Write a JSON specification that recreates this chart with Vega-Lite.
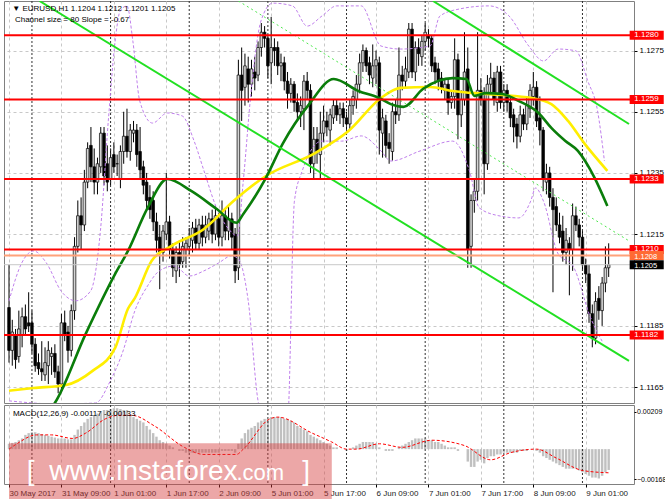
{
"$schema": "https://vega.github.io/schema/vega-lite/v6.json",
"padding": {"left": 2, "right": 0, "top": 0, "bottom": 0},
"background": "white",
"spacing": 0,
"config": {
  "view": {"stroke": "#808080", "strokeWidth": 1},
  "axis": {"labelFont": "Liberation Sans", "labelFontSize": 8, "labelColor": "#000", "domain": false, "gridColor": "#c8c8c8", "gridDash": [3,3], "gridWidth": 1, "tickColor": "#000", "tickSize": 3, "labelPadding": 2},
  "text": {"font": "Liberation Sans"},
  "concat": {"spacing": 0}
},
"datasets": {
"sep": [{"i":7},{"i":31},{"i":55},{"i":79},{"i":103},{"i":127},{"i":151},{"i":175}],
"candles": [
{"i":0,"o":1.1191,"h":1.1205,"l":1.1173,"c":1.1177},
{"i":1,"o":1.1177,"h":1.1187,"l":1.1172,"c":1.1183},
{"i":2,"o":1.1182,"h":1.1184,"l":1.1171,"c":1.1174},
{"i":3,"o":1.1175,"h":1.1190,"l":1.1173,"c":1.1184},
{"i":4,"o":1.1182,"h":1.1191,"l":1.1178,"c":1.1188},
{"i":5,"o":1.1188,"h":1.1192,"l":1.1182,"c":1.1184},
{"i":6,"o":1.1186,"h":1.1196,"l":1.1183,"c":1.1185},
{"i":7,"o":1.1186,"h":1.1190,"l":1.1176,"c":1.1179},
{"i":8,"o":1.1179,"h":1.1181,"l":1.1170,"c":1.1172},
{"i":9,"o":1.1173,"h":1.1176,"l":1.1169,"c":1.1171},
{"i":10,"o":1.1171,"h":1.1180,"l":1.1167,"c":1.1170},
{"i":11,"o":1.1169,"h":1.1178,"l":1.1167,"c":1.1173},
{"i":12,"o":1.1172,"h":1.1180,"l":1.1166,"c":1.1177},
{"i":13,"o":1.1175,"h":1.1178,"l":1.1169,"c":1.1176},
{"i":14,"o":1.1176,"h":1.1179,"l":1.1168,"c":1.1170},
{"i":15,"o":1.1170,"h":1.1172,"l":1.1163,"c":1.1166},
{"i":16,"o":1.1166,"h":1.1189,"l":1.1164,"c":1.1186},
{"i":17,"o":1.1186,"h":1.1190,"l":1.1180,"c":1.1182},
{"i":18,"o":1.1183,"h":1.1185,"l":1.1173,"c":1.1177},
{"i":19,"o":1.1177,"h":1.1192,"l":1.1175,"c":1.1190},
{"i":20,"o":1.1190,"h":1.1214,"l":1.1187,"c":1.1211},
{"i":21,"o":1.1211,"h":1.1226,"l":1.1209,"c":1.1221},
{"i":22,"o":1.1221,"h":1.1227,"l":1.1210,"c":1.1218},
{"i":23,"o":1.1218,"h":1.1236,"l":1.1216,"c":1.1232},
{"i":24,"o":1.1232,"h":1.1245,"l":1.1230,"c":1.1243},
{"i":25,"o":1.1244,"h":1.1250,"l":1.1232,"c":1.1237},
{"i":26,"o":1.1237,"h":1.1243,"l":1.1228,"c":1.1232},
{"i":27,"o":1.1232,"h":1.1240,"l":1.1228,"c":1.1238},
{"i":28,"o":1.1237,"h":1.1250,"l":1.1235,"c":1.1248},
{"i":29,"o":1.1248,"h":1.1250,"l":1.1231,"c":1.1234},
{"i":30,"o":1.1238,"h":1.1244,"l":1.1229,"c":1.1232},
{"i":31,"o":1.1233,"h":1.1243,"l":1.1231,"c":1.1240},
{"i":32,"o":1.1241,"h":1.1245,"l":1.1235,"c":1.1237},
{"i":33,"o":1.1238,"h":1.1241,"l":1.1234,"c":1.1238},
{"i":34,"o":1.1233,"h":1.1244,"l":1.1230,"c":1.1242},
{"i":35,"o":1.1242,"h":1.1255,"l":1.1238,"c":1.1247},
{"i":36,"o":1.1247,"h":1.1256,"l":1.1240,"c":1.1242},
{"i":37,"o":1.1242,"h":1.1251,"l":1.1239,"c":1.1249},
{"i":38,"o":1.1248,"h":1.1252,"l":1.1245,"c":1.1249},
{"i":39,"o":1.1249,"h":1.1251,"l":1.1237,"c":1.1241},
{"i":40,"o":1.1242,"h":1.1250,"l":1.1233,"c":1.1236},
{"i":41,"o":1.1237,"h":1.1239,"l":1.1228,"c":1.1231},
{"i":42,"o":1.1232,"h":1.1235,"l":1.1223,"c":1.1226},
{"i":43,"o":1.1227,"h":1.1231,"l":1.1220,"c":1.1223},
{"i":44,"o":1.1226,"h":1.1229,"l":1.1216,"c":1.1219},
{"i":45,"o":1.1219,"h":1.1222,"l":1.1209,"c":1.1213},
{"i":46,"o":1.1214,"h":1.1218,"l":1.1197,"c":1.1209},
{"i":47,"o":1.1209,"h":1.1218,"l":1.1206,"c":1.1216},
{"i":48,"o":1.1215,"h":1.1235,"l":1.1213,"c":1.1219},
{"i":49,"o":1.1219,"h":1.1221,"l":1.1207,"c":1.1210},
{"i":50,"o":1.1210,"h":1.1212,"l":1.1201,"c":1.1204},
{"i":51,"o":1.1203,"h":1.1211,"l":1.1199,"c":1.1209},
{"i":52,"o":1.1209,"h":1.1213,"l":1.1201,"c":1.1205},
{"i":53,"o":1.1206,"h":1.1214,"l":1.1204,"c":1.1211},
{"i":54,"o":1.1210,"h":1.1214,"l":1.1204,"c":1.1212},
{"i":55,"o":1.1211,"h":1.1217,"l":1.1208,"c":1.1214},
{"i":56,"o":1.1213,"h":1.1219,"l":1.1209,"c":1.1217},
{"i":57,"o":1.1217,"h":1.1220,"l":1.1210,"c":1.1212},
{"i":58,"o":1.1212,"h":1.1220,"l":1.1210,"c":1.1218},
{"i":59,"o":1.1218,"h":1.1221,"l":1.1211,"c":1.1214},
{"i":60,"o":1.1214,"h":1.1221,"l":1.1212,"c":1.1218},
{"i":61,"o":1.1216,"h":1.1222,"l":1.1213,"c":1.1220},
{"i":62,"o":1.1220,"h":1.1223,"l":1.1212,"c":1.1215},
{"i":63,"o":1.1215,"h":1.1224,"l":1.1213,"c":1.1221},
{"i":64,"o":1.1220,"h":1.1222,"l":1.1211,"c":1.1214},
{"i":65,"o":1.1214,"h":1.1226,"l":1.1211,"c":1.1221},
{"i":66,"o":1.1221,"h":1.1223,"l":1.1213,"c":1.1216},
{"i":67,"o":1.1216,"h":1.1224,"l":1.1213,"c":1.1220},
{"i":68,"o":1.1220,"h":1.1222,"l":1.1210,"c":1.1214},
{"i":69,"o":1.1215,"h":1.1217,"l":1.1199,"c":1.1203},
{"i":70,"o":1.1204,"h":1.1272,"l":1.1200,"c":1.1267},
{"i":71,"o":1.1267,"h":1.1276,"l":1.1252,"c":1.1262},
{"i":72,"o":1.1263,"h":1.1274,"l":1.1257,"c":1.1270},
{"i":73,"o":1.1269,"h":1.1273,"l":1.1258,"c":1.1264},
{"i":74,"o":1.1264,"h":1.1272,"l":1.1260,"c":1.1269},
{"i":75,"o":1.1268,"h":1.1273,"l":1.1262,"c":1.1266},
{"i":76,"o":1.1267,"h":1.1278,"l":1.1265,"c":1.1276},
{"i":77,"o":1.1276,"h":1.1284,"l":1.1273,"c":1.1281},
{"i":78,"o":1.1281,"h":1.1283,"l":1.1276,"c":1.1279},
{"i":79,"o":1.1279,"h":1.1280,"l":1.1266,"c":1.1270},
{"i":80,"o":1.1271,"h":1.1286,"l":1.1264,"c":1.1276},
{"i":81,"o":1.1276,"h":1.1279,"l":1.1270,"c":1.1275},
{"i":82,"o":1.1276,"h":1.1278,"l":1.1267,"c":1.1270},
{"i":83,"o":1.1270,"h":1.1274,"l":1.1265,"c":1.1271},
{"i":84,"o":1.1271,"h":1.1273,"l":1.1262,"c":1.1265},
{"i":85,"o":1.1265,"h":1.1268,"l":1.1256,"c":1.1261},
{"i":86,"o":1.1261,"h":1.1266,"l":1.1258,"c":1.1264},
{"i":87,"o":1.1264,"h":1.1265,"l":1.1255,"c":1.1258},
{"i":88,"o":1.1258,"h":1.1261,"l":1.1252,"c":1.1255},
{"i":89,"o":1.1255,"h":1.1260,"l":1.1250,"c":1.1257},
{"i":90,"o":1.1256,"h":1.1267,"l":1.1249,"c":1.1265},
{"i":91,"o":1.1265,"h":1.1268,"l":1.1259,"c":1.1262},
{"i":92,"o":1.1262,"h":1.1264,"l":1.1235,"c":1.1238},
{"i":93,"o":1.1238,"h":1.1250,"l":1.1233,"c":1.1246},
{"i":94,"o":1.1246,"h":1.1250,"l":1.1238,"c":1.1242},
{"i":95,"o":1.1241,"h":1.1255,"l":1.1233,"c":1.1248},
{"i":96,"o":1.1248,"h":1.1257,"l":1.1245,"c":1.1252},
{"i":97,"o":1.1252,"h":1.1255,"l":1.1247,"c":1.1250},
{"i":98,"o":1.1249,"h":1.1256,"l":1.1244,"c":1.1254},
{"i":99,"o":1.1253,"h":1.1259,"l":1.1251,"c":1.1257},
{"i":100,"o":1.1257,"h":1.1259,"l":1.1252,"c":1.1254},
{"i":101,"o":1.1254,"h":1.1258,"l":1.1251,"c":1.1256},
{"i":102,"o":1.1256,"h":1.1258,"l":1.1250,"c":1.1253},
{"i":103,"o":1.1253,"h":1.1255,"l":1.1248,"c":1.1251},
{"i":104,"o":1.1251,"h":1.1259,"l":1.1249,"c":1.1257},
{"i":105,"o":1.1257,"h":1.1262,"l":1.1254,"c":1.1260},
{"i":106,"o":1.1259,"h":1.1267,"l":1.1256,"c":1.1264},
{"i":107,"o":1.1264,"h":1.1274,"l":1.1261,"c":1.1271},
{"i":108,"o":1.1271,"h":1.1277,"l":1.1268,"c":1.1275},
{"i":109,"o":1.1275,"h":1.1276,"l":1.1268,"c":1.1270},
{"i":110,"o":1.1271,"h":1.1273,"l":1.1264,"c":1.1267},
{"i":111,"o":1.1266,"h":1.1277,"l":1.1263,"c":1.1270},
{"i":112,"o":1.1270,"h":1.1275,"l":1.1264,"c":1.1272},
{"i":113,"o":1.1271,"h":1.1273,"l":1.1241,"c":1.1249},
{"i":114,"o":1.1248,"h":1.1256,"l":1.1240,"c":1.1253},
{"i":115,"o":1.1252,"h":1.1254,"l":1.1240,"c":1.1244},
{"i":116,"o":1.1245,"h":1.1248,"l":1.1238,"c":1.1243},
{"i":117,"o":1.1242,"h":1.1258,"l":1.1239,"c":1.1255},
{"i":118,"o":1.1255,"h":1.1259,"l":1.1251,"c":1.1254},
{"i":119,"o":1.1254,"h":1.1276,"l":1.1252,"c":1.1267},
{"i":120,"o":1.1267,"h":1.1270,"l":1.1262,"c":1.1265},
{"i":121,"o":1.1265,"h":1.1273,"l":1.1263,"c":1.1269},
{"i":122,"o":1.1268,"h":1.1284,"l":1.1266,"c":1.1282},
{"i":123,"o":1.1282,"h":1.1284,"l":1.1266,"c":1.1268},
{"i":124,"o":1.1268,"h":1.1278,"l":1.1265,"c":1.1276},
{"i":125,"o":1.1276,"h":1.1279,"l":1.1270,"c":1.1274},
{"i":126,"o":1.1273,"h":1.1280,"l":1.1270,"c":1.1278},
{"i":127,"o":1.1278,"h":1.1284,"l":1.1275,"c":1.1281},
{"i":128,"o":1.1280,"h":1.1282,"l":1.1276,"c":1.1279},
{"i":129,"o":1.1279,"h":1.1280,"l":1.1268,"c":1.1270},
{"i":130,"o":1.1271,"h":1.1273,"l":1.1264,"c":1.1268},
{"i":131,"o":1.1269,"h":1.1271,"l":1.1262,"c":1.1265},
{"i":132,"o":1.1266,"h":1.1268,"l":1.1261,"c":1.1263},
{"i":133,"o":1.1262,"h":1.1266,"l":1.1259,"c":1.1264},
{"i":134,"o":1.1264,"h":1.1266,"l":1.1254,"c":1.1258},
{"i":135,"o":1.1258,"h":1.1262,"l":1.1256,"c":1.1260},
{"i":136,"o":1.1260,"h":1.1279,"l":1.1256,"c":1.1272},
{"i":137,"o":1.1272,"h":1.1274,"l":1.1246,"c":1.1254},
{"i":138,"o":1.1254,"h":1.1262,"l":1.1250,"c":1.1259},
{"i":139,"o":1.1259,"h":1.1281,"l":1.1257,"c":1.1268},
{"i":140,"o":1.1269,"h":1.1276,"l":1.1204,"c":1.1210},
{"i":141,"o":1.1211,"h":1.1228,"l":1.1204,"c":1.1226},
{"i":142,"o":1.1226,"h":1.1233,"l":1.1222,"c":1.1229},
{"i":143,"o":1.1229,"h":1.1281,"l":1.1226,"c":1.1262},
{"i":144,"o":1.1262,"h":1.1266,"l":1.1257,"c":1.1259},
{"i":145,"o":1.1259,"h":1.1263,"l":1.1228,"c":1.1238},
{"i":146,"o":1.1238,"h":1.1267,"l":1.1236,"c":1.1264},
{"i":147,"o":1.1264,"h":1.1271,"l":1.1261,"c":1.1266},
{"i":148,"o":1.1266,"h":1.1268,"l":1.1257,"c":1.1259},
{"i":149,"o":1.1258,"h":1.1270,"l":1.1255,"c":1.1268},
{"i":150,"o":1.1268,"h":1.1270,"l":1.1256,"c":1.1258},
{"i":151,"o":1.1258,"h":1.1264,"l":1.1255,"c":1.1262},
{"i":152,"o":1.1262,"h":1.1264,"l":1.1255,"c":1.1258},
{"i":153,"o":1.1258,"h":1.1260,"l":1.1250,"c":1.1253},
{"i":154,"o":1.1254,"h":1.1256,"l":1.1245,"c":1.1250},
{"i":155,"o":1.1251,"h":1.1253,"l":1.1243,"c":1.1247},
{"i":156,"o":1.1247,"h":1.1257,"l":1.1245,"c":1.1254},
{"i":157,"o":1.1254,"h":1.1256,"l":1.1249,"c":1.1251},
{"i":158,"o":1.1251,"h":1.1260,"l":1.1249,"c":1.1257},
{"i":159,"o":1.1256,"h":1.1264,"l":1.1253,"c":1.1262},
{"i":160,"o":1.1260,"h":1.1268,"l":1.1257,"c":1.1263},
{"i":161,"o":1.1263,"h":1.1265,"l":1.1250,"c":1.1252},
{"i":162,"o":1.1253,"h":1.1260,"l":1.1244,"c":1.1249},
{"i":163,"o":1.1249,"h":1.1250,"l":1.1229,"c":1.1233},
{"i":164,"o":1.1232,"h":1.1238,"l":1.1228,"c":1.1235},
{"i":165,"o":1.1235,"h":1.1237,"l":1.1224,"c":1.1227},
{"i":166,"o":1.1227,"h":1.1230,"l":1.1196,"c":1.1223},
{"i":167,"o":1.1224,"h":1.1227,"l":1.1216,"c":1.1218},
{"i":168,"o":1.1218,"h":1.1222,"l":1.1212,"c":1.1214},
{"i":169,"o":1.1216,"h":1.1221,"l":1.1206,"c":1.1209},
{"i":170,"o":1.1209,"h":1.1217,"l":1.1205,"c":1.1213},
{"i":171,"o":1.1212,"h":1.1214,"l":1.1195,"c":1.1210},
{"i":172,"o":1.1210,"h":1.1225,"l":1.1203,"c":1.1221},
{"i":173,"o":1.1221,"h":1.1224,"l":1.1216,"c":1.1218},
{"i":174,"o":1.1218,"h":1.1220,"l":1.1211,"c":1.1214},
{"i":175,"o":1.1214,"h":1.1216,"l":1.1203,"c":1.1205},
{"i":176,"o":1.1205,"h":1.1207,"l":1.1199,"c":1.1202},
{"i":177,"o":1.1202,"h":1.1205,"l":1.1186,"c":1.1189},
{"i":178,"o":1.1189,"h":1.1192,"l":1.1178,"c":1.1181},
{"i":179,"o":1.1181,"h":1.1196,"l":1.1179,"c":1.1193},
{"i":180,"o":1.1194,"h":1.1198,"l":1.1187,"c":1.1190},
{"i":181,"o":1.1190,"h":1.1201,"l":1.1185,"c":1.1199},
{"i":182,"o":1.1199,"h":1.1211,"l":1.1196,"c":1.1204},
{"i":183,"o":1.1204,"h":1.1212,"l":1.1201,"c":1.1205}
],
"lines": [
{"s":"g","i":12,"p":1.1157},{"s":"g","i":13.8,"p":1.11595},{"s":"g","i":23.4,"p":1.11824},{"s":"g","i":32.4,"p":1.1202},{"s":"g","i":36.3,"p":1.12095},{"s":"g","i":42.3,"p":1.12236},{"s":"g","i":48.3,"p":1.1233},{"s":"g","i":55.6,"p":1.12291},{"s":"g","i":63.4,"p":1.12232},{"s":"g","i":69.4,"p":1.12187},{"s":"g","i":71.5,"p":1.12216},{"s":"g","i":78.4,"p":1.12334},{"s":"g","i":83.5,"p":1.12445},{"s":"g","i":91.6,"p":1.12575},{"s":"g","i":99.1,"p":1.12657},{"s":"g","i":106.6,"p":1.12618},{"s":"g","i":112.9,"p":1.12595},{"s":"g","i":116.5,"p":1.12575},{"s":"g","i":120.4,"p":1.12566},{"s":"g","i":126.4,"p":1.12625},{"s":"g","i":135.4,"p":1.1266},{"s":"g","i":139.6,"p":1.12657},{"s":"g","i":142,"p":1.12602},{"s":"g","i":145.6,"p":1.12611},{"s":"g","i":150.5,"p":1.12608},{"s":"g","i":155.6,"p":1.12585},{"s":"g","i":161.6,"p":1.12546},{"s":"g","i":165.5,"p":1.12497},{"s":"g","i":169.7,"p":1.12455},{"s":"g","i":173.6,"p":1.12422},{"s":"g","i":178.7,"p":1.12334},{"s":"g","i":182.6,"p":1.12242},
{"s":"y","i":0,"p":1.11638},{"s":"y","i":7.5,"p":1.11647},{"s":"y","i":17.4,"p":1.11657},{"s":"y","i":25.5,"p":1.11703},{"s":"y","i":32.4,"p":1.11778},{"s":"y","i":36.3,"p":1.11906},{"s":"y","i":38.4,"p":1.11941},{"s":"y","i":43.5,"p":1.12062},{"s":"y","i":49.5,"p":1.12111},{"s":"y","i":59.5,"p":1.12167},{"s":"y","i":68.5,"p":1.12258},{"s":"y","i":78.4,"p":1.1234},{"s":"y","i":93.4,"p":1.12415},{"s":"y","i":103.6,"p":1.12487},{"s":"y","i":113.5,"p":1.12595},{"s":"y","i":119.5,"p":1.12628},{"s":"y","i":128.5,"p":1.12631},{"s":"y","i":135.4,"p":1.12618},{"s":"y","i":145.6,"p":1.12608},{"s":"y","i":159.5,"p":1.12595},{"s":"y","i":165.5,"p":1.12575},{"s":"y","i":170.6,"p":1.1252},{"s":"y","i":175.7,"p":1.12445},{"s":"y","i":182.6,"p":1.12357},
{"s":"u","i":0,"p":1.11932},{"s":"u","i":3.9,"p":1.12056},{"s":"u","i":7.5,"p":1.12095},{"s":"u","i":11.4,"p":1.12056},{"s":"u","i":15.9,"p":1.11964},{"s":"u","i":20.4,"p":1.11932},{"s":"u","i":24.9,"p":1.11964},{"s":"u","i":27.9,"p":1.12161},{"s":"u","i":30.3,"p":1.1252},{"s":"u","i":32.4,"p":1.12781},{"s":"u","i":33.9,"p":1.12879},{"s":"u","i":36,"p":1.12896},{"s":"u","i":37.8,"p":1.12781},{"s":"u","i":39.9,"p":1.12585},{"s":"u","i":43.8,"p":1.12513},{"s":"u","i":48.3,"p":1.12546},{"s":"u","i":52.9,"p":1.12536},{"s":"u","i":56.5,"p":1.12454},{"s":"u","i":59.5,"p":1.12357},{"s":"u","i":63.1,"p":1.12242},{"s":"u","i":67,"p":1.12167},{"s":"u","i":69.7,"p":1.12144},{"s":"u","i":71.5,"p":1.12324},{"s":"u","i":73.9,"p":1.12618},{"s":"u","i":76.9,"p":1.12847},{"s":"u","i":80.5,"p":1.12905},{"s":"u","i":86.5,"p":1.12896},{"s":"u","i":91,"p":1.1283},{"s":"u","i":95.5,"p":1.12863},{"s":"u","i":100,"p":1.12896},{"s":"u","i":107.5,"p":1.12896},{"s":"u","i":113.5,"p":1.12765},{"s":"u","i":119.5,"p":1.12755},{"s":"u","i":128.5,"p":1.12765},{"s":"u","i":131.5,"p":1.12863},{"s":"u","i":137.5,"p":1.12886},{"s":"u","i":146.5,"p":1.12896},{"s":"u","i":152.6,"p":1.12863},{"s":"u","i":158.6,"p":1.12765},{"s":"u","i":163.1,"p":1.12716},{"s":"u","i":167.6,"p":1.12755},{"s":"u","i":173,"p":1.12749},{"s":"u","i":176.6,"p":1.12651},{"s":"u","i":179.6,"p":1.12553},{"s":"u","i":181.7,"p":1.12389},
{"s":"l","i":0,"p":1.11605},{"s":"l","i":14.4,"p":1.11595},{"s":"l","i":26.4,"p":1.11598},{"s":"l","i":30.9,"p":1.1167},{"s":"l","i":34.8,"p":1.11768},{"s":"l","i":38.4,"p":1.11899},{"s":"l","i":42.3,"p":1.11981},{"s":"l","i":45.9,"p":1.1203},{"s":"l","i":50.5,"p":1.12046},{"s":"l","i":55,"p":1.12013},{"s":"l","i":59.5,"p":1.1203},{"s":"l","i":64,"p":1.12056},{"s":"l","i":67.9,"p":1.12079},{"s":"l","i":70,"p":1.12069},{"s":"l","i":73,"p":1.11932},{"s":"l","i":76,"p":1.11605},{"s":"l","i":78,"p":1.1154},{"s":"l","i":85,"p":1.1154},{"s":"l","i":87.1,"p":1.12258},{"s":"l","i":89.5,"p":1.12357},{"s":"l","i":95.5,"p":1.12454},{"s":"l","i":101.5,"p":1.12454},{"s":"l","i":107.5,"p":1.12471},{"s":"l","i":113.5,"p":1.12422},{"s":"l","i":116.5,"p":1.12389},{"s":"l","i":125.5,"p":1.12422},{"s":"l","i":135.4,"p":1.12454},{"s":"l","i":140.5,"p":1.12357},{"s":"l","i":143.5,"p":1.12236},{"s":"l","i":149.5,"p":1.1221},{"s":"l","i":155.6,"p":1.12203},{"s":"l","i":159.2,"p":1.12258},{"s":"l","i":160.7,"p":1.12301},{"s":"l","i":163.1,"p":1.12258},{"s":"l","i":167.6,"p":1.12085},{"s":"l","i":172.1,"p":1.12046},{"s":"l","i":177.5,"p":1.11876},{"s":"l","i":181,"p":1.118},
{"s":"c1","i":9.3,"p":1.12912},{"s":"c1","i":189.2,"p":1.11736},
{"s":"c2","i":129.4,"p":1.12912},{"s":"c2","i":189.2,"p":1.1251},
{"s":"cm","i":70,"p":1.12912},{"s":"cm","i":189.2,"p":1.12128}
],
"levels": [
{"p":1.128,"t":"1.1280","k":"r"},{"p":1.1259,"t":"1.1259","k":"r"},{"p":1.1233,"t":"1.1233","k":"r"},{"p":1.121,"t":"1.1210","k":"r"},{"p":1.1208,"t":"1.1208","k":"o"},{"p":1.1205,"t":"1.1205","k":"g"},{"p":1.1182,"t":"1.1182","k":"r"}
],
"macd": [
{"i":0,"v":0.0003},{"i":1,"v":0.00035},{"i":2,"v":0.0004},{"i":3,"v":0.0005},{"i":4,"v":0.0006},{"i":5,"v":0.0008},{"i":6,"v":0.0009},{"i":7,"v":0.00095},{"i":8,"v":0.00095},{"i":9,"v":0.0009},{"i":10,"v":0.00085},{"i":11,"v":0.0008},{"i":12,"v":0.00075},{"i":13,"v":0.0007},{"i":14,"v":0.00065},{"i":15,"v":0.0006},{"i":16,"v":0.0006},{"i":17,"v":0.0006},{"i":18,"v":0.00055},{"i":19,"v":0.00055},{"i":20,"v":0.0008},{"i":21,"v":0.0011},{"i":22,"v":0.0013},{"i":23,"v":0.0015},{"i":24,"v":0.0017},{"i":25,"v":0.0018},{"i":26,"v":0.0019},{"i":27,"v":0.002},{"i":28,"v":0.0021},{"i":29,"v":0.0022},{"i":30,"v":0.0022},{"i":31,"v":0.00225},{"i":32,"v":0.0023},{"i":33,"v":0.0023},{"i":34,"v":0.00225},{"i":35,"v":0.0022},{"i":36,"v":0.0022},{"i":37,"v":0.0019},{"i":38,"v":0.0018},{"i":39,"v":0.0017},{"i":40,"v":0.0016},{"i":41,"v":0.0015},{"i":42,"v":0.0013},{"i":43,"v":0.0011},{"i":44,"v":0.0009},{"i":45,"v":0.0007},{"i":46,"v":0.0005},{"i":47,"v":0.0004},{"i":48,"v":0.0003},{"i":49,"v":0.0002},{"i":50,"v":0.0001},{"i":51,"v":0.0},{"i":52,"v":-0.0001},{"i":53,"v":-0.0001},{"i":54,"v":-0.0002},{"i":55,"v":-0.0002},{"i":56,"v":-0.0002},{"i":57,"v":-0.0002},{"i":58,"v":-0.0002},{"i":59,"v":-0.0002},{"i":60,"v":-0.0002},{"i":61,"v":-0.0002},{"i":62,"v":-0.0002},{"i":63,"v":-0.0002},{"i":64,"v":-0.0002},{"i":65,"v":-0.0001},{"i":66,"v":-0.0001},{"i":67,"v":-0.0001},{"i":68,"v":-0.0001},{"i":69,"v":-0.0002},{"i":70,"v":0.0003},{"i":71,"v":0.0006},{"i":72,"v":0.0009},{"i":73,"v":0.0011},{"i":74,"v":0.0012},{"i":75,"v":0.0013},{"i":76,"v":0.0015},{"i":77,"v":0.0016},{"i":78,"v":0.0017},{"i":79,"v":0.0017},{"i":80,"v":0.0018},{"i":81,"v":0.0018},{"i":82,"v":0.0018},{"i":83,"v":0.0018},{"i":84,"v":0.0017},{"i":85,"v":0.0017},{"i":86,"v":0.0016},{"i":87,"v":0.0015},{"i":88,"v":0.0013},{"i":89,"v":0.0012},{"i":90,"v":0.0011},{"i":91,"v":0.001},{"i":92,"v":0.0008},{"i":93,"v":0.0007},{"i":94,"v":0.0006},{"i":95,"v":0.0005},{"i":96,"v":0.0004},{"i":97,"v":0.0003},{"i":98,"v":0.0002},{"i":99,"v":0.0001},{"i":100,"v":0.0001},{"i":101,"v":0.0},{"i":102,"v":0.0},{"i":103,"v":-0.0001},{"i":104,"v":0.0},{"i":105,"v":0.0001},{"i":106,"v":0.0002},{"i":107,"v":0.0003},{"i":108,"v":0.0004},{"i":109,"v":0.0004},{"i":110,"v":0.0004},{"i":111,"v":0.0004},{"i":112,"v":0.0003},{"i":113,"v":0.0001},{"i":114,"v":0.0},{"i":115,"v":-0.0001},{"i":116,"v":-0.0001},{"i":117,"v":-0.0001},{"i":118,"v":0.0},{"i":119,"v":0.0001},{"i":120,"v":0.0002},{"i":121,"v":0.0003},{"i":122,"v":0.0004},{"i":123,"v":0.0005},{"i":124,"v":0.0006},{"i":125,"v":0.0006},{"i":126,"v":0.0006},{"i":127,"v":0.0006},{"i":128,"v":0.0005},{"i":129,"v":0.0005},{"i":130,"v":0.0004},{"i":131,"v":0.0004},{"i":132,"v":0.0003},{"i":133,"v":0.0002},{"i":134,"v":0.0001},{"i":135,"v":0.0001},{"i":136,"v":0.0001},{"i":137,"v":-0.0001},{"i":138,"v":0.0},{"i":139,"v":0.0},{"i":140,"v":-0.0007},{"i":141,"v":-0.001},{"i":142,"v":-0.001},{"i":143,"v":-0.0007},{"i":144,"v":-0.0006},{"i":145,"v":-0.0008},{"i":146,"v":-0.0005},{"i":147,"v":-0.0004},{"i":148,"v":-0.0004},{"i":149,"v":-0.0003},{"i":150,"v":-0.0003},{"i":151,"v":-0.0002},{"i":152,"v":-0.0002},{"i":153,"v":-0.0002},{"i":154,"v":-0.0002},{"i":155,"v":-0.0002},{"i":156,"v":-0.0001},{"i":157,"v":-0.0001},{"i":158,"v":-0.0001},{"i":159,"v":0.0},{"i":160,"v":0.0},{"i":161,"v":-0.0001},{"i":162,"v":-0.0002},{"i":163,"v":-0.0004},{"i":164,"v":-0.0005},{"i":165,"v":-0.0006},{"i":166,"v":-0.0007},{"i":167,"v":-0.0008},{"i":168,"v":-0.0009},{"i":169,"v":-0.001},{"i":170,"v":-0.0011},{"i":171,"v":-0.0011},{"i":172,"v":-0.0011},{"i":173,"v":-0.0011},{"i":174,"v":-0.0012},{"i":175,"v":-0.0013},{"i":176,"v":-0.0014},{"i":177,"v":-0.0015},{"i":178,"v":-0.0016},{"i":179,"v":-0.0016},{"i":180,"v":-0.00165},{"i":181,"v":-0.0015},{"i":182,"v":-0.0013},{"i":183,"v":-0.00117}
],
"sig": [
{"i":0,"v":0.0},{"i":2.4,"v":0.0003},{"i":8.4,"v":0.0008},{"i":12.9,"v":0.0008},{"i":19.5,"v":0.0006},{"i":23.4,"v":0.0009},{"i":29.4,"v":0.0017},{"i":33.3,"v":0.0019},{"i":37.5,"v":0.0019},{"i":44.4,"v":0.0013},{"i":53.5,"v":0.0001},{"i":59.5,"v":-0.0003},{"i":69.4,"v":-0.0003},{"i":71.5,"v":0.0},{"i":79.6,"v":0.0017},{"i":82,"v":0.0018},{"i":92.5,"v":0.0009},{"i":98.5,"v":0.0004},{"i":103,"v":0.0},{"i":106,"v":0.0},{"i":113,"v":0.0003},{"i":120,"v":0.0001},{"i":129,"v":0.0005},{"i":139,"v":0.0002},{"i":147,"v":-0.0006},{"i":153,"v":-0.0002},{"i":161,"v":0.0},{"i":167,"v":-0.0005},{"i":175,"v":-0.0012},{"i":183,"v":-0.00133}
]
},
"vconcat": [
{
 "width": 630, "height": 402,
 "layer": [
  {"data": {"name": "candles"}, "mark": {"type": "rule", "color": "#000", "strokeWidth": 1, "clip": true},
   "encoding": {
     "x": {"field": "i", "type": "quantitative", "title": null, "scale": {"domain": [0,189.2], "nice": false, "zero": false},
           "axis": {"values": [0,8,16,24,32,40,48,56,64,72,80,88,96,104,112,120,128,136,144,152,160,168,176,184], "labels": false, "ticks": false, "grid": true, "title": null}},
     "y": {"field": "l", "type": "quantitative", "title": null, "scale": {"domain": [1.11598,1.12912], "nice": false, "zero": false},
           "axis": {"orient": "right", "values": [1.1165,1.1175,1.1185,1.1195,1.1215,1.1225,1.1235,1.1245,1.1255,1.1265,1.1275,1.1285], "format": ".4f", "grid": true, "title": null, "labelOverlap": false}},
     "y2": {"field": "h"}
   }},
  {"data": {"name": "sep"}, "mark": {"type": "rule", "color": "#303030", "strokeDash": [2,2], "strokeWidth": 1},
   "encoding": {"x": {"field": "i", "type": "quantitative", "title": null, "scale": {"domain": [0,189.2], "nice": false, "zero": false}}}},
  {"data": {"name": "candles"}, "mark": {"type": "bar", "width": 2.6, "stroke": "#000", "strokeWidth": 0.7, "clip": true},
   "encoding": {
     "x": {"field": "i", "type": "quantitative", "title": null, "scale": {"domain": [0,189.2], "nice": false, "zero": false}},
     "y": {"field": "o", "type": "quantitative", "title": null, "scale": {"domain": [1.11598,1.12912], "nice": false, "zero": false}},
     "y2": {"field": "c"},
     "fill": {"condition": {"test": "datum.c >= datum.o", "value": "#d4d4d4"}, "value": "#000000"}
   }},
  {"data": {"name": "lines"}, "transform": [{"filter": "datum.s === 'u' || datum.s === 'l'"}],
   "mark": {"type": "line", "color": "#c080ec", "strokeWidth": 1, "strokeDash": [3,2], "clip": true, "interpolate": "monotone"},
   "encoding": {
     "x": {"field": "i", "type": "quantitative", "title": null, "scale": {"domain": [0,189.2], "nice": false, "zero": false}},
     "y": {"field": "p", "type": "quantitative", "title": null, "scale": {"domain": [1.11598,1.12912], "nice": false, "zero": false}},
     "detail": {"field": "s"}
   }},
  {"data": {"name": "lines"}, "transform": [{"filter": "datum.s === 'y'"}],
   "mark": {"type": "line", "color": "#ffee00", "strokeWidth": 2.6, "clip": true, "interpolate": "monotone"},
   "encoding": {
     "x": {"field": "i", "type": "quantitative", "title": null, "scale": {"domain": [0,189.2], "nice": false, "zero": false}},
     "y": {"field": "p", "type": "quantitative", "title": null, "scale": {"domain": [1.11598,1.12912], "nice": false, "zero": false}}
   }},
  {"data": {"name": "lines"}, "transform": [{"filter": "datum.s === 'g'"}],
   "mark": {"type": "line", "color": "#0a7d0a", "strokeWidth": 2.6, "clip": true, "interpolate": "monotone"},
   "encoding": {
     "x": {"field": "i", "type": "quantitative", "title": null, "scale": {"domain": [0,189.2], "nice": false, "zero": false}},
     "y": {"field": "p", "type": "quantitative", "title": null, "scale": {"domain": [1.11598,1.12912], "nice": false, "zero": false}}
   }},
  {"data": {"name": "lines"}, "transform": [{"filter": "datum.s === 'cm'"}],
   "mark": {"type": "line", "color": "#4ee84e", "strokeWidth": 1, "strokeDash": [2,3], "clip": true},
   "encoding": {
     "x": {"field": "i", "type": "quantitative", "title": null, "scale": {"domain": [0,189.2], "nice": false, "zero": false}},
     "y": {"field": "p", "type": "quantitative", "title": null, "scale": {"domain": [1.11598,1.12912], "nice": false, "zero": false}}
   }},
  {"data": {"name": "lines"}, "transform": [{"filter": "datum.s === 'c1' || datum.s === 'c2'"}],
   "mark": {"type": "line", "color": "#22e022", "strokeWidth": 2, "clip": true},
   "encoding": {
     "x": {"field": "i", "type": "quantitative", "title": null, "scale": {"domain": [0,189.2], "nice": false, "zero": false}},
     "y": {"field": "p", "type": "quantitative", "title": null, "scale": {"domain": [1.11598,1.12912], "nice": false, "zero": false}},
     "detail": {"field": "s"}
   }},
  {"data": {"name": "levels"}, "mark": {"type": "rule"},
   "encoding": {
     "y": {"field": "p", "type": "quantitative", "title": null, "scale": {"domain": [1.11598,1.12912], "nice": false, "zero": false}},
     "color": {"condition": [{"test": "datum.k === 'o'", "value": "#ffa27a"}, {"test": "datum.k === 'g'", "value": "#c8c8c8"}], "value": "#ff0000"},
     "strokeWidth": {"condition": [{"test": "datum.k === 'g'", "value": 1}], "value": 2}
   }},
  {"data": {"name": "levels"}, "mark": {"type": "rect", "yOffset": -4.5, "y2Offset": 4.5},
   "encoding": {
     "x": {"datum": 189.4, "type": "quantitative", "title": null, "scale": {"domain": [0,189.2], "nice": false, "zero": false}},
     "x2": {"datum": 199.8},
     "y": {"field": "p", "type": "quantitative", "title": null, "scale": {"domain": [1.11598,1.12912], "nice": false, "zero": false}},
     "y2": {"field": "p"},
     "fill": {"condition": [{"test": "datum.k === 'o'", "value": "#ff6a33"}, {"test": "datum.k === 'g'", "value": "#000000"}], "value": "#ff0000"}
   }},
  {"data": {"name": "levels"}, "transform": [{"filter": "datum.k === 'r'"}],
   "mark": {"type": "text", "align": "left", "baseline": "middle", "fontSize": 8, "color": "#ffffff", "dx": 1, "dy": -0.5},
   "encoding": {
     "x": {"datum": 190.5, "type": "quantitative", "title": null, "scale": {"domain": [0,189.2], "nice": false, "zero": false}},
     "y": {"field": "p", "type": "quantitative", "title": null, "scale": {"domain": [1.11598,1.12912], "nice": false, "zero": false}},
     "text": {"field": "t"}
   }},
  {"data": {"name": "levels"}, "transform": [{"filter": "datum.k !== 'r'"}],
   "mark": {"type": "text", "align": "left", "baseline": "middle", "fontSize": 7.5, "color": "#ffffff", "dx": 1, "dy": 1.5},
   "encoding": {
     "x": {"datum": 190.5, "type": "quantitative", "title": null, "scale": {"domain": [0,189.2], "nice": false, "zero": false}},
     "y": {"field": "p", "type": "quantitative", "title": null, "scale": {"domain": [1.11598,1.12912], "nice": false, "zero": false}},
     "text": {"field": "t"}
   }},
  {"data": {"values": [{}]}, "mark": {"type": "text", "align": "left", "baseline": "middle", "fontSize": 8, "color": "#000"},
   "encoding": {
     "x": {"datum": 1, "type": "quantitative", "title": null, "scale": {"domain": [0,189.2], "nice": false, "zero": false}},
     "y": {"datum": 1.12886, "type": "quantitative", "title": null, "scale": {"domain": [1.11598,1.12912], "nice": false, "zero": false}},
     "text": {"value": "▼  EURUSD,H1  1.1204 1.1212 1.1201 1.1205"}
   }},
  {"data": {"values": [{}]}, "mark": {"type": "text", "align": "left", "baseline": "middle", "fontSize": 8, "color": "#000"},
   "encoding": {
     "x": {"datum": 1.8, "type": "quantitative", "title": null, "scale": {"domain": [0,189.2], "nice": false, "zero": false}},
     "y": {"datum": 1.1285, "type": "quantitative", "title": null, "scale": {"domain": [1.11598,1.12912], "nice": false, "zero": false}},
     "text": {"value": "Channel size = 80 Slope = -0.67"}
   }}
 ]
},
{
 "width": 630, "height": 79,
 "layer": [
  {"data": {"name": "macd"}, "mark": {"type": "bar", "width": 2.4, "color": "#c0c0c0", "clip": true},
   "encoding": {
     "x": {"field": "i", "type": "quantitative", "title": null, "scale": {"domain": [0,189.2], "nice": false, "zero": false},
           "axis": {"values": [0,8,16,24,32,40,48,56,64,72,80,88,96,104,112,120,128,136,144,152,160,168,176,184], "grid": true, "title": null,
                    "labelExpr": "['30 May 2017','31 May 09:00','1 Jun 01:00','1 Jun 17:00','2 Jun 09:00','5 Jun 01:00','5 Jun 17:00','6 Jun 09:00','7 Jun 01:00','7 Jun 17:00','8 Jun 09:00','9 Jun 01:00'][datum.value / 16] || ''",
                    "labelAlign": "left", "labelOverlap": false, "labelBound": false, "labelFlush": false, "labelColor": "#222",
                    "tickOpacity": {"condition": {"test": "datum.value % 16 === 0", "value": 1}, "value": 0}}},
     "y": {"field": "v", "type": "quantitative", "title": null, "scale": {"domain": [-0.00196,0.00248], "nice": false, "zero": false},
           "axis": {"orient": "right", "values": [0.00209,0,-0.00168], "title": null, "grid": true, "labelOverlap": false,
                    "labelFontSize": 7, "tickSize": 2, "labelPadding": 0.5,
                    "labelExpr": "datum.value === 0 ? '0.00' : format(datum.value, '.5f')",
                    "gridOpacity": {"condition": {"test": "datum.value === 0", "value": 1}, "value": 0}}},
     "y2": {"datum": 0}
   }},
  {"data": {"name": "sep"}, "mark": {"type": "rule", "color": "#303030", "strokeDash": [2,2], "strokeWidth": 1},
   "encoding": {"x": {"field": "i", "type": "quantitative", "title": null, "scale": {"domain": [0,189.2], "nice": false, "zero": false}}}},
  {"data": {"name": "sig"}, "mark": {"type": "line", "color": "#ff0000", "strokeWidth": 1, "strokeDash": [3,2], "interpolate": "monotone", "clip": true},
   "encoding": {
     "x": {"field": "i", "type": "quantitative", "title": null, "scale": {"domain": [0,189.2], "nice": false, "zero": false}},
     "y": {"field": "v", "type": "quantitative", "title": null, "scale": {"domain": [-0.00196,0.00248], "nice": false, "zero": false}}
   }},
  {"data": {"values": [{}]}, "mark": {"type": "text", "align": "left", "baseline": "middle", "fontSize": 8, "color": "#000"},
   "encoding": {
     "x": {"datum": 1.2, "type": "quantitative", "title": null, "scale": {"domain": [0,189.2], "nice": false, "zero": false}},
     "y": {"datum": 0.00197, "type": "quantitative", "title": null, "scale": {"domain": [-0.00196,0.00248], "nice": false, "zero": false}},
     "text": {"value": "MACD(12,26,9) -0.00117 -0.00133"}
   }},
  {"data": {"values": [{}]}, "mark": {"type": "rect", "color": "#d43c3c", "opacity": 0.45},
   "encoding": {
     "x": {"datum": 0, "type": "quantitative", "title": null, "scale": {"domain": [0,189.2], "nice": false, "zero": false}},
     "x2": {"datum": 98.5},
     "y": {"datum": 0.00033, "type": "quantitative", "title": null, "scale": {"domain": [-0.00196,0.00248], "nice": false, "zero": false}},
     "y2": {"datum": -0.00284}
   }},
  {"data": {"values": [{}]}, "mark": {"type": "text", "align": "left", "baseline": "alphabetic", "fontSize": 28, "color": "#ffffff"},
   "encoding": {
     "x": {"datum": 12.3, "type": "quantitative", "title": null, "scale": {"domain": [0,189.2], "nice": false, "zero": false}},
     "y": {"datum": -0.00174, "type": "quantitative", "title": null, "scale": {"domain": [-0.00196,0.00248], "nice": false, "zero": false}},
     "text": {"value": "www.instaforex"}
   }},
  {"data": {"values": [{}]}, "mark": {"type": "text", "align": "left", "baseline": "alphabetic", "fontSize": 22, "color": "#ffffff"},
   "encoding": {
     "x": {"datum": 69.4, "type": "quantitative", "title": null, "scale": {"domain": [0,189.2], "nice": false, "zero": false}},
     "y": {"datum": -0.00174, "type": "quantitative", "title": null, "scale": {"domain": [-0.00196,0.00248], "nice": false, "zero": false}},
     "text": {"value": ".com"}
   }},
  {"data": {"values": [{}]}, "mark": {"type": "text", "align": "left", "baseline": "alphabetic", "fontSize": 28, "color": "#ffffff"},
   "encoding": {
     "x": {"datum": 5.4, "type": "quantitative", "title": null, "scale": {"domain": [0,189.2], "nice": false, "zero": false}},
     "y": {"datum": -0.00174, "type": "quantitative", "title": null, "scale": {"domain": [-0.00196,0.00248], "nice": false, "zero": false}},
     "text": {"value": "["}
   }},
  {"data": {"values": [{}]}, "mark": {"type": "text", "align": "left", "baseline": "alphabetic", "fontSize": 28, "color": "#ffffff"},
   "encoding": {
     "x": {"datum": 89.5, "type": "quantitative", "title": null, "scale": {"domain": [0,189.2], "nice": false, "zero": false}},
     "y": {"datum": -0.00174, "type": "quantitative", "title": null, "scale": {"domain": [-0.00196,0.00248], "nice": false, "zero": false}},
     "text": {"value": "]"}
   }}
 ]
}
]
}
